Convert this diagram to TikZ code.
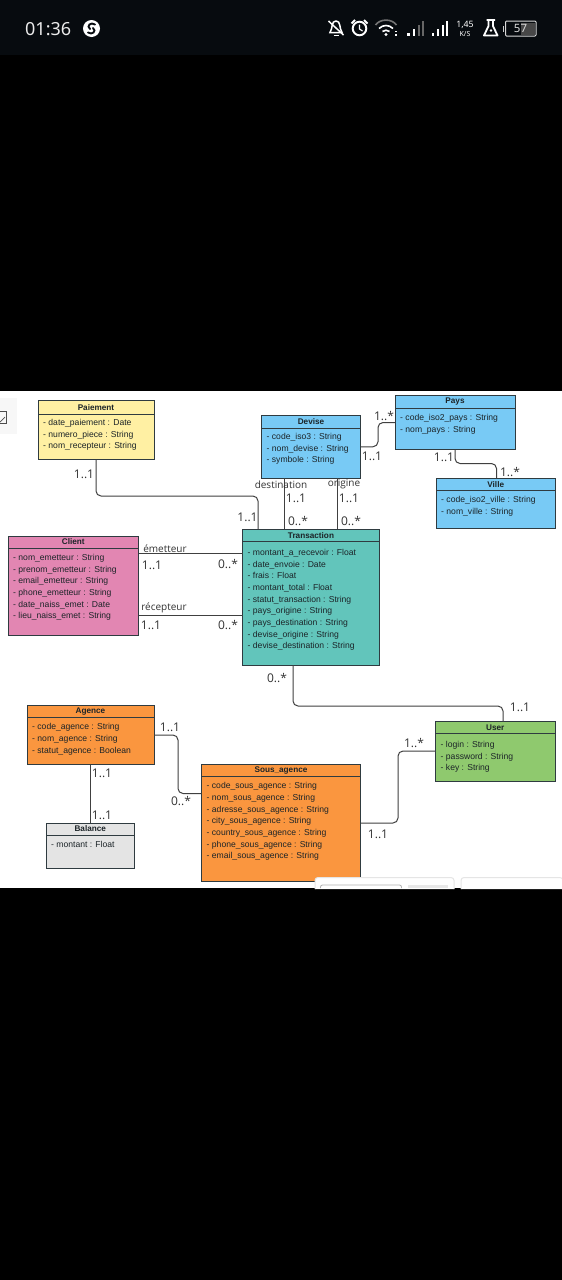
\documentclass[tikz,border=0pt]{standalone}
\usepackage{fontspec}
\setmainfont{Liberation Sans}
\newfontfamily\lblfont{Open Sans}
\newfontfamily\statfont{Noto Sans}
\definecolor{barbg}{HTML}{070B0F}
\definecolor{cyel}{HTML}{FFF0A3}
\definecolor{cblu}{HTML}{78CAF5}
\definecolor{cpink}{HTML}{E286B2}
\definecolor{cteal}{HTML}{62C5BB}
\definecolor{corg}{HTML}{FA963F}
\definecolor{cgrn}{HTML}{8FC96E}
\definecolor{cgry}{HTML}{E4E4E4}
\definecolor{lnc}{HTML}{2F3B40}
\definecolor{txc}{HTML}{1C2428}
\tikzset{
 umlbox/.style={draw=lnc,line width=1pt,anchor=north west,inner sep=0pt,outer sep=0pt},
 hdr/.style={font=\bfseries\fontsize{8.2}{10}\selectfont,text=txc,inner sep=0pt,anchor=center},
 attrs/.style={font=\fontsize{8.6}{11.65}\selectfont,text=txc,inner sep=0pt,anchor=north west,align=left},
 conn/.style={draw=black!75,line width=1pt,rounded corners=5pt},
 lbl/.style={font=\lblfont\fontsize{12}{13}\selectfont,text=black!80,inner sep=0pt,anchor=center},
 rolelbl/.style={font=\lblfont\fontsize{10}{12}\selectfont,text=black!80,inner sep=0pt,anchor=center},
 stat/.style={white,line width=1.5pt},
}
\newcommand{\attrgap}{6}
% name, x1, y1, x2, y2, header y, colour, title, attributes
\newcommand{\umlclass}[9]{%
 \pgfmathsetlengthmacro{\bw}{(#4)-(#2)}%
 \pgfmathsetlengthmacro{\bh}{(#5)-(#3)}%
 \node[umlbox,fill=#7,minimum width=\bw,minimum height=\bh] (#1) at (#2,#3) {};
 \draw[lnc,line width=1pt] (#2,#6) -- (#4,#6);
 \node[hdr] (#1t) at ({((#2)+(#4))/2},{((#3)+(#6))/2}) {#8};
 \node[attrs] (#1a) at ({(#2)+5},{(#6)+\attrgap}) {#9};
}
\begin{document}
\begin{tikzpicture}[x=1pt,y=-1pt]
\useasboundingbox (0,0) rectangle (562,1280);
\fill[black] (0,0) rectangle (562,1280);
\fill[barbg] (0,0) rectangle (562,55);
\fill[white] (0,391) rectangle (562,888);
% left icon panel
\fill[black!3] (0,398) rectangle (17,434);
\draw[black!70,line width=.8pt] (0,411) -- (6,411) -- (6,423) -- (0,423);
\draw[black!70,line width=.7pt] (0,422) -- (5,417);

\renewcommand{\attrgap}{5}
\umlclass{pai}{38}{400.5}{154}{459.5}{414}{cyel}{Paiement}{- date\_paiement : Date\\- numero\_piece : String\\- nom\_recepteur : String}
\umlclass{dev}{261.5}{415.5}{360.5}{478}{428}{cblu}{Devise}{- code\_iso3 : String\\- nom\_devise : String\\- symbole : String}
\renewcommand{\attrgap}{6}
\umlclass{pay}{395}{395.5}{515}{449.5}{408}{cblu}{Pays}{- code\_iso2\_pays : String\\- nom\_pays : String}
\umlclass{vil}{436}{478}{555.5}{528.5}{490.5}{cblu}{Ville}{- code\_iso2\_ville : String\\- nom\_ville : String}
\umlclass{cli}{8}{536}{138.5}{635}{548}{cpink}{Client}{- nom\_emetteur : String\\- prenom\_emetteur : String\\- email\_emetteur : String\\- phone\_emetteur : String\\- date\_naiss\_emet : Date\\- lieu\_naiss\_emet : String}
\renewcommand{\attrgap}{7.6}
\umlclass{tra}{242.5}{529}{379.5}{665}{541.5}{cteal}{Transaction}{- montant\_a\_recevoir : Float\\- date\_envoie : Date\\- frais : Float\\- montant\_total : Float\\- statut\_transaction : String\\- pays\_origine : String\\- pays\_destination : String\\- devise\_origine : String\\- devise\_destination : String}
\renewcommand{\attrgap}{6}
\umlclass{age}{27}{705.5}{154}{764.5}{717.5}{corg}{Agence}{- code\_agence : String\\- nom\_agence : String\\- statut\_agence : Boolean}
\umlclass{bal}{46}{823}{134.5}{868.5}{835}{cgry}{Balance}{- montant : Float}
\umlclass{sou}{201.5}{764.5}{360.5}{881}{776.5}{corg}{Sous\_agence}{- code\_sous\_agence : String\\- nom\_sous\_agence : String\\- adresse\_sous\_agence : String\\- city\_sous\_agence : String\\- country\_sous\_agence : String\\- phone\_sous\_agence : String\\- email\_sous\_agence : String}
\renewcommand{\attrgap}{7.6}
\umlclass{usr}{435.5}{721.5}{555}{781}{733.5}{cgrn}{User}{- login : String\\- password : String\\- key : String}

% bottom widgets
\filldraw[draw=black!10,fill=white,line width=1pt,rounded corners=3pt] (315,889) -- (315,877.5) -- (454,877.5) -- (454,889);
\draw[black!30,line width=.8pt,rounded corners=2pt] (320.5,888) -- (320.5,885) -- (401.5,885) -- (401.5,888);
\fill[black!9] (408,885) rectangle (448,888);
\filldraw[draw=black!10,fill=white,line width=1pt,rounded corners=3pt] (461,889) -- (461,877.5) -- (563,877.5) -- (563,889);

% connectors
\draw[conn] (pai.south) -- ++(0,36.5) -| ([xshift=15.5]tra.north west);
\draw[conn] ([xshift=42]tra.north west) -- ([xshift=23]dev.south west);
\draw[conn] ([xshift=95]tra.north west) -- ([xshift=76]dev.south west);
\draw[conn] (dev.east) -- ++(17.5,0) |- ([yshift=-27]pay.north west);
\draw[conn] ([xshift=60]pay.south west) -- ++(0,14) -| ([xshift=60.5]vil.north west);
\draw[conn] ([yshift=-17.5]cli.north east) -- ([yshift=-24.5]tra.north west);
\draw[conn] ([yshift=-79.5]cli.north east) -- ([yshift=-86.5]tra.north west);
\draw[conn] ([xshift=50.5]tra.south west) -- ++(0,41) -| ([xshift=67.5]usr.north west);
\draw[conn] ([yshift=-29.5]age.north east) -- ++(24,0) |- ([yshift=-29]sou.north west);
\draw[conn] ([xshift=63.5]age.south west) -- ([xshift=44.5]bal.north west);
\draw[conn] ([yshift=-58.5]sou.north east) -- ++(37.5,0) |- ([yshift=-29.5]usr.north west);

% multiplicities
\node[lbl] (m1) at (84,474) {1..1};
\node[lbl] (m2) at (247.5,517) {1..1};
\node[lbl] (m3) at (296,498) {1..1};
\node[lbl] (m4) at (298,521) {0..*};
\node[lbl] (m5) at (349,498) {1..1};
\node[lbl] (m6) at (351,521) {0..*};
\node[lbl] (m7) at (384,416) {1..*};
\node[lbl] (m8) at (372,456) {1..1};
\node[lbl] (m9) at (444,457) {1..1};
\node[lbl] (m10) at (510,472) {1..*};
\node[lbl] (m11) at (152,565) {1..1};
\node[lbl] (m12) at (228,564) {0..*};
\node[lbl] (m13) at (151,625) {1..1};
\node[lbl] (m14) at (228,625) {0..*};
\node[lbl] (m15) at (277,678) {0..*};
\node[lbl] (m16) at (520,707) {1..1};
\node[lbl] (m17) at (170,727) {1..1};
\node[lbl] (m18) at (181,801) {0..*};
\node[lbl] (m19) at (102,773) {1..1};
\node[lbl] (m20) at (102,815) {1..1};
\node[lbl] (m21) at (414,743) {1..*};
\node[lbl] (m22) at (378,834) {1..1};
\node[rolelbl] (r1) at (281,485) {destination};
\node[rolelbl] (r2) at (344,484.5) {origine};
\node[rolelbl] (r3) at (165,549) {émetteur};
\node[rolelbl] (r4) at (164,608) {récepteur};

% status bar
\node[font=\statfont\fontsize{18}{20}\selectfont,text=white!92!black,inner sep=0pt,anchor=west] (time) at (25,29) {01:36};
\fill[white] (91.5,28.5) circle (8.5);
\draw[barbg,line width=1.9pt,line cap=round] (95,24.5) .. controls (91,21.5) and (86,26) .. (90,29);
\draw[barbg,line width=1.9pt,line cap=round] (88,32.5) .. controls (92,35.5) and (97,31) .. (93,28);
% bell with slash
\draw[stat] (330,32.5) .. controls (333,28) and (331,21) .. (336,21) .. controls (341,21) and (339,28) .. (342,32.5) -- cycle;
\draw[stat] (328.5,21) -- (343.5,35);
\draw[stat] (333.5,35.5) -- (338.5,35.5);
% alarm
\draw[white,line width=1.9pt] (359.5,28.5) circle (6.8);
\draw[white,line width=1.2pt] (359.5,24.5) -- (359.5,29) -- (362.5,31);
\draw[white,line width=2pt] (351.5,23.5) -- (355,20);
\draw[white,line width=2pt] (367.5,23.5) -- (364,20);
% wifi
\draw[white!45!black,line width=1.6pt] (375.5,25) .. controls (380,18.5) and (392,18.5) .. (396.5,25);
\draw[white,line width=1.6pt] (379,28.5) .. controls (383,24.5) and (389,24.5) .. (393,28.5);
\draw[white,line width=1.6pt] (382.5,31.5) .. controls (384.5,29.8) and (387.5,29.8) .. (389.5,31.5);
\fill[white] (386,34.5) circle (1.6);
\fill[white] (395,30.5) rectangle (396.8,32.3);
\fill[white] (395,34.3) rectangle (396.8,36);
% signal 1
\fill[white] (407,33) rectangle (410,36);
\fill[white] (412.5,29) rectangle (415,36);
\fill[white!40!black] (417.5,25) rectangle (420,36);
\fill[white!40!black] (422,20.5) rectangle (424,36);
% signal 2
\fill[white] (431.5,33) rectangle (434,36);
\fill[white] (436.5,29) rectangle (439,36);
\fill[white] (441.5,25) rectangle (444,36);
\fill[white] (446,20.5) rectangle (448,36);
% speed
\node[font=\statfont\bfseries\fontsize{8.8}{9}\selectfont,text=white,inner sep=0pt] (spd) at (465,25) {1,45};
\node[font=\statfont\bfseries\fontsize{7}{7}\selectfont,text=white,inner sep=0pt] (spu) at (465,34) {K/S};
% flask
\draw[white,line width=1.8pt,line join=round] (486.5,20) -- (495,20) (488.5,20) -- (488.5,26) -- (484,35.5) -- (497.5,35.5) -- (493,26) -- (493,20);
\fill[white] (491,30.5) circle (1.3);
% battery
\fill[white!80!black] (502.5,26) rectangle (504,32);
\draw[white!85!black,line width=1pt,rounded corners=1pt] (505.5,21) rectangle (536,36);
\fill[white!28!black] (521,22.5) rectangle (535,34.5);
\node[font=\statfont\fontsize{11.5}{12}\selectfont,text=white!85!black,inner sep=0pt] (bat) at (520.5,28.5) {57};
\end{tikzpicture}
\end{document}
